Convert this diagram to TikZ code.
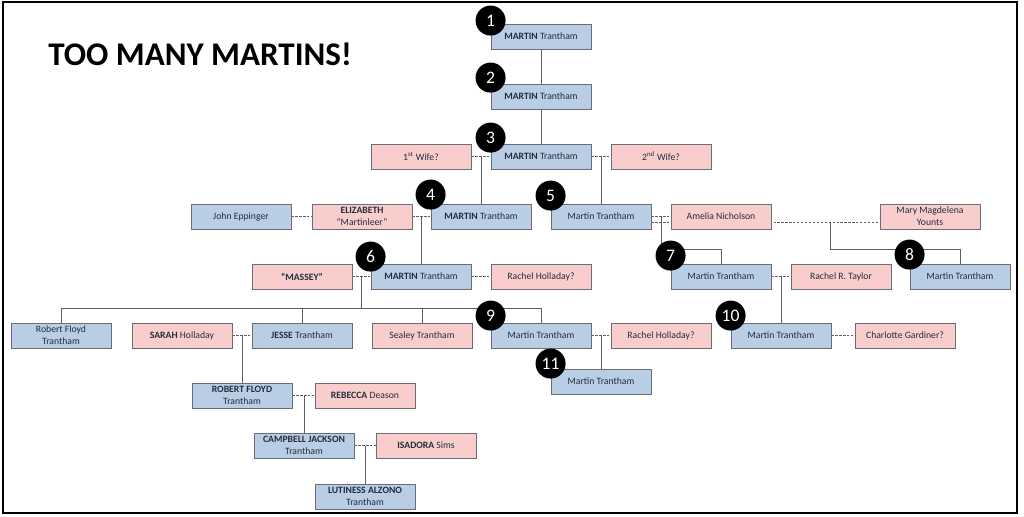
\documentclass[tikz,border=0pt]{standalone}
\usepackage{fontspec}
\setmainfont{Carlito}
\usetikzlibrary{calc,backgrounds}

\definecolor{boxblue}{RGB}{185,205,229}
\definecolor{boxpink}{RGB}{250,205,205}
\definecolor{boxline}{RGB}{105,110,120}
\definecolor{linkgray}{RGB}{95,95,95}
\definecolor{nametext}{RGB}{35,45,60}

\tikzset{
  person/.style={draw=boxline, line width=0.6pt, minimum width=2.5cm, minimum height=0.625cm,
    inner sep=1pt, align=center, text=nametext, font=\fontsize{6.9}{8.5}\selectfont},
  man/.style={person, fill=boxblue},
  woman/.style={person, fill=boxpink},
  link/.style={draw=linkgray, line width=0.6pt},
  wed/.style={link, dash pattern=on 1.6pt off 1.2pt},
  badge/.style={circle, fill=black, text=white, minimum size=0.75cm, inner sep=0pt,
    font=\fontsize{12.5}{12.5}\selectfont}
}

\begin{document}
\begin{tikzpicture}[x=0.025cm, y=-0.025cm]
  \useasboundingbox (0,0) rectangle (1024,517);
  \draw[line width=1.6pt] (3,2) rectangle (1017,513);
  \node[anchor=west, inner sep=0pt, font=\fontsize{23.5}{23.5}\selectfont\bfseries] (title) at (48,54) {TOO MANY MARTINS!};

  % Martins down the line
  \node[man] (m1) at (541,36.5) {\textbf{MARTIN} Trantham};
  \node[man] (m2) at (541,96.5) {\textbf{MARTIN} Trantham};
  \node[man] (m3) at (541,156.5) {\textbf{MARTIN} Trantham};
  \node[woman] (wife1) at (421,156.5) {1\textsuperscript{st} Wife?};
  \node[woman] (wife2) at (661,156.5) {2\textsuperscript{nd} Wife?};

  \node[man] (eppinger) at (241,216.5) {John Eppinger};
  \node[woman] (elizabeth) at (362,216.5) {\textbf{ELIZABETH}\\“Martinleer”};
  \node[man] (m4) at (481,216.5) {\textbf{MARTIN} Trantham};
  \node[man] (m5) at (601,216.5) {Martin Trantham};
  \node[woman] (amelia) at (721,216.5) {Amelia Nicholson};
  \node[woman] (mary) at (930,216.5) {Mary Magdelena\\Younts};

  \node[woman] (massey) at (302,276.5) {\textbf{“MASSEY”}};
  \node[man] (m6) at (421,276.5) {\textbf{MARTIN} Trantham};
  \node[woman] (rachel6) at (541,276.5) {Rachel Holladay?};
  \node[man] (m7) at (721,276.5) {Martin Trantham};
  \node[woman] (taylor) at (841,276.5) {Rachel R. Taylor};
  \node[man] (m8) at (960,276.5) {Martin Trantham};

  \node[man] (robertf) at (61,335.5) {Robert Floyd\\Trantham};
  \node[woman] (sarah) at (182,335.5) {\textbf{SARAH} Holladay};
  \node[man] (jesse) at (302,335.5) {\textbf{JESSE} Trantham};
  \node[woman] (sealey) at (422,335.5) {Sealey Trantham};
  \node[man] (m9) at (541,335.5) {Martin Trantham};
  \node[woman] (rachel9) at (661,335.5) {Rachel Holladay?};
  \node[man] (m10) at (781,335.5) {Martin Trantham};
  \node[woman] (charlotte) at (905,335.5) {Charlotte Gardiner?};
  \node[man] (m11) at (601,381.5) {Martin Trantham};

  % Jesse's line
  \node[man] (rfloyd) at (242,395.5) {\textbf{ROBERT FLOYD}\\Trantham};
  \node[woman] (rebecca) at (365,395.5) {\textbf{REBECCA} Deason};
  \node[man] (campbell) at (304,445.5) {\textbf{CAMPBELL JACKSON}\\Trantham};
  \node[woman] (isadora) at (426,445.5) {\textbf{ISADORA} Sims};
  \node[man] (lutiness) at (365,496.5) {\textbf{LUTINESS ALZONO}\\Trantham};

  % connectors
  \begin{scope}[on background layer]
    \draw[link] (m1) -- (m2);
    \draw[link] (m2) -- (m3);
    \draw[wed] (wife1) -- (m3);
    \draw[link] (m3.west -| m4.north) -- (m4.north);
    \draw[wed] (m3) -- (wife2);
    \draw[link] (m3.east -| m5.north) -- (m5.north);

    \draw[wed] (eppinger) -- (elizabeth);
    \draw[wed] (elizabeth) -- (m4);
    \draw[link] (m4.west -| m6.north) -- (m6.north);

    \draw[wed] (massey) -- (m6);
    \draw[wed] (m6) -- (rachel6);
    \coordinate (c6) at ($(massey.east)!0.5!(m6.west)$);
    \coordinate (bar) at ([shift={(0,-14)}]robertf.north);
    \draw[link] (c6) -- (c6 |- bar);
    \draw[link] (robertf.north) -- (bar) -| (m9.north);
    \draw[link] (jesse.north) -- (jesse.north |- bar);
    \draw[link] (sealey.north) -- (sealey.north |- bar);

    \draw[wed] (m5) -- (amelia);
    \draw[wed] ([shift={(0,5.5)}]m5.east) -- ([shift={(0,5.5)}]mary.west);
    \coordinate (c5a) at ($(m5.east)!0.5!(amelia.west)$);
    \draw[link] (c5a) -- ++(0,32.5) -| (m7.north);
    \coordinate (c5b) at ($(amelia.east)!0.55!(mary.west)+(0,5.5)$);
    \draw[link] (c5b) -- ++(0,27) -| (m8.north);

    \draw[wed] (m7) -- (taylor);
    \draw[link] (m7.east -| m10.north) -- (m10.north);
    \draw[wed] (m10) -- (charlotte);
    \draw[wed] (m9) -- (rachel9);
    \draw[link] (m9.east -| m11.north) -- (m11.north);

    \draw[wed] (sarah) -- (jesse);
    \draw[link] (sarah.east -| rfloyd.north) -- (rfloyd.north);
    \draw[wed] (rfloyd) -- (rebecca);
    \draw[link] (rfloyd.east -| campbell.north) -- (campbell.north);
    \draw[wed] (campbell) -- (isadora);
    \draw[link] (campbell.east -| lutiness.north) -- (lutiness.north);
  \end{scope}

  % numbered badges
  \foreach \b/\n/\dy in {m1/1/-3, m2/2/-6, m3/3/-6, m4/4/-9, m5/5/-8, m6/6/-7,
                         m7/7/-8, m8/8/-9, m9/9/-7, m10/10/-7, m11/11/-5}
    \node[badge] (badge\n) at ([shift={(0,\dy)}]\b.north west) {\n};
\end{tikzpicture}
\end{document}
